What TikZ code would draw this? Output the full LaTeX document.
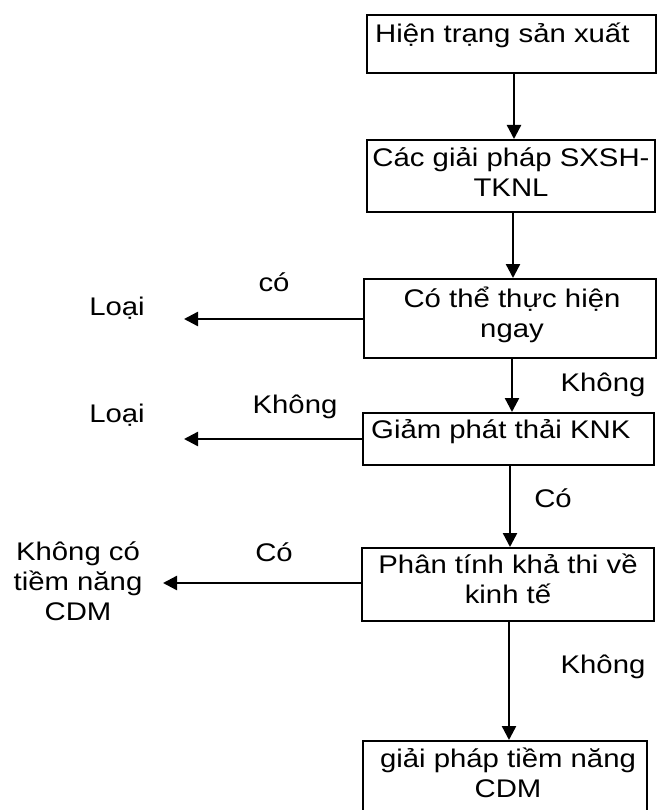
\documentclass[tikz,border=0pt]{standalone}
\usepackage{fontspec}
\setmainfont{Liberation Sans}[FakeStretch=1.15]
\usetikzlibrary{arrows.meta}
\begin{document}
\begin{tikzpicture}[x=1pt,y=-1pt,
  box/.style={draw=black,line width=2pt,inner sep=0pt},
  txt/.style={inner sep=0pt,font=\fontsize{25.5}{30}\selectfont,align=center},
  arr/.style={line width=2.4pt,-{Triangle[length=14pt,width=14pt]}}]
\useasboundingbox (0,0) rectangle (657,810);
% boxes
\node[box,minimum width=289pt,minimum height=58pt] (b1) at (511.5,44) {};
\node[box,minimum width=288pt,minimum height=72pt] (b2) at (511,176) {};
\node[box,minimum width=292pt,minimum height=79pt] (b3) at (510,318.5) {};
\node[box,minimum width=291pt,minimum height=52pt] (b4) at (508.5,439) {};
\node[box,minimum width=292pt,minimum height=73pt] (b5) at (508,584.5) {};
\node[box,minimum width=284pt,minimum height=70pt] (b6) at (505,776) {};
% box texts
\node[txt,anchor=west] (t1) at (375,35) {Hiện trạng sản xuất};
\node[txt] (t2) at (511,172) {Các giải pháp SXSH-\\TKNL};
\node[txt] (t3) at (512,315) {Có thể thực hiện\\ngay};
\node[txt,anchor=west] (t4) at (371,432) {Giảm phát thải KNK};
\node[txt] (t5) at (508,579) {Phân tính khả thi về\\kinh tế};
\node[txt] (t6) at (508,773) {giải pháp tiềm năng\\CDM};
% side texts and labels
\node[txt] (l1) at (117,308) {Loại};
\node[txt] (l2) at (117,415) {Loại};
\node[txt] (l3) at (78,581) {Không có\\tiềm năng\\CDM};
\node[txt] (c1) at (274,282) {có};
\node[txt] (c2) at (295,407) {Không};
\node[txt] (c3) at (274,552) {Có};
\node[txt] (c4) at (603,385) {Không};
\node[txt] (c5) at (553,498) {Có};
\node[txt] (c6) at (603,667) {Không};
% free ends
\coordinate (e1) at (184,319);
\coordinate (e2) at (184,439);
\coordinate (e3) at (163,583);
% vertical arrows
\draw[arr] (b1.south -| 514,0) -- (b2.north -| 514,0);
\draw[arr] (b2.south -| 513,0) -- (b3.north -| 513,0);
\draw[arr] (b3.south -| 512,0) -- (b4.north -| 512,0);
\draw[arr] (b4.south -| 510,0) -- (b5.north -| 510,0);
\draw[arr] (b5.south -| 509,0) -- (b6.north -| 509,0);
% horizontal arrows
\draw[arr] (b3.west |- e1) -- (e1);
\draw[arr] (b4.west |- e2) -- (e2);
\draw[arr] (b5.west |- e3) -- (e3);
\end{tikzpicture}
\end{document}
